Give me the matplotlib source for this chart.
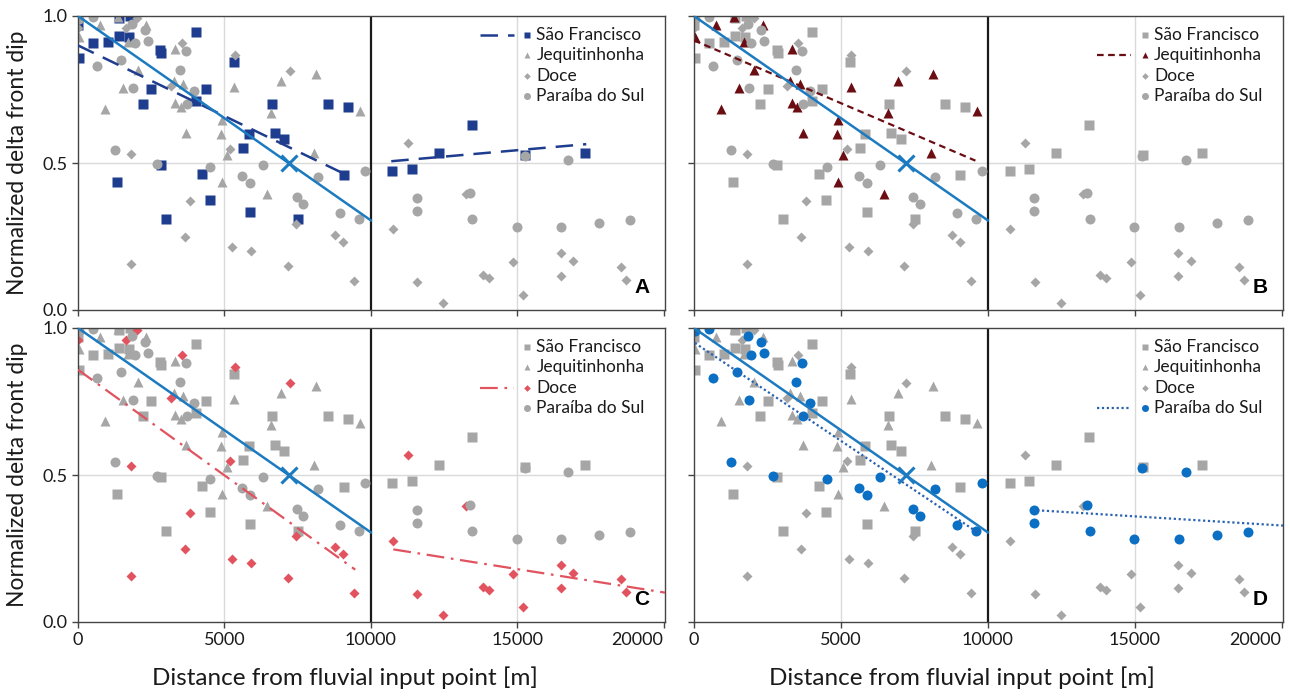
# -*- coding: utf-8 -*-

#---    Packages
import matplotlib
matplotlib.use('Agg')
import matplotlib.pyplot as plt

#---    Data
# Sao Francisco (squares)
sf_x = [0, 45, 500, 1033, 1407, 1748, 1407, 1770, 4018, 2815, 2849, 5323, 2508, 4370,
        2236, 4018, 6628, 8535, 9239, 5834, 6719, 7048, 5652, 2838, 9069, 4245, 1339,
        4506, 5891, 3019, 7514,
        10740, 11411, 12321, 13458, 15268, 17305]
sf_y = [0.97, 0.858, 0.907, 0.913, 0.932, 0.930, 0.994, 1.0, 0.945, 0.884, 0.873, 0.844,
        0.752, 0.752, 0.699, 0.710, 0.700, 0.700, 0.689, 0.597, 0.603, 0.583, 0.551,
        0.494, 0.458, 0.461, 0.435, 0.373, 0.333, 0.310, 0.310,
        0.472, 0.480, 0.535, 0.630, 0.527, 0.535]

# Jequitinhonha (triangles)
jq_x = [20, 741, 1368, 2337, 1710, 2052, 1539, 912, 3329, 3283, 3603, 3329, 3511, 3705,
        4902, 4879, 5073, 4902, 5335, 6464, 6589, 6931, 8128, 8060, 9644]
jq_y = [0.928, 0.968, 0.997, 0.968, 0.911, 0.815, 0.756, 0.682, 0.889, 0.778, 0.769,
        0.703, 0.692, 0.602, 0.647, 0.599, 0.527, 0.436, 0.758, 0.394, 0.669, 0.778,
        0.803, 0.534, 0.676]

# Doce (diamonds)
dc_x = [0, 1629, 2027, 3542, 3166, 5353, 7233, 1800, 5205, 3816, 3645, 1800, 5274, 5923,
        7438, 7164, 8782, 9055, 9431,
        11284, 10772, 11592, 12480, 13244, 13825, 14040, 14871, 15190, 16488, 16488,
        16920, 18560, 18731]
dc_y = [0.958, 0.958, 0.994, 0.909, 0.761, 0.866, 0.812, 0.531, 0.547, 0.372, 0.247,
        0.156, 0.215, 0.199, 0.293, 0.148, 0.256, 0.230, 0.099,
        0.567, 0.276, 0.094, 0.023, 0.396, 0.119, 0.110, 0.162, 0.051, 0.193, 0.114,
        0.165, 0.146, 0.102]

# Paraiba do Sul (circles)
ps_x = [34, 514, 1839, 2284, 1953, 2398, 3689, 640, 1462, 3483, 1862, 3951, 3712, 1268,
        2684, 4522, 5607, 5881, 6315, 8200, 7469, 7686, 8965, 9604, 9798,
        11590, 11590, 13392, 13474, 14991, 15265, 16498, 16738, 17810, 18851]
ps_y = [0.991, 0.997, 0.974, 0.953, 0.909, 0.914, 0.881, 0.830, 0.852, 0.817, 0.755,
        0.744, 0.701, 0.545, 0.498, 0.485, 0.455, 0.431, 0.493, 0.453, 0.386, 0.362,
        0.330, 0.309, 0.474,
        0.380, 0.338, 0.397, 0.309, 0.284, 0.523, 0.281, 0.511, 0.297, 0.306]

# overall trend and reference point
all_trend_x = [0, 10000]
all_trend_y = [1.0, 0.305]
ref_x, ref_y = 7200, 0.5

# river trend lines: [x0, x1], [y0, y1] near (<10 km) and far (>10 km)
sf_near = ([0, 9200], [0.90, 0.458])
sf_far = ([10700, 17360], [0.506, 0.564])
jq_near = ([0, 9580], [0.917, 0.508])
dc_near = ([0, 9470], [0.858, 0.178])
dc_far = ([10770, 20050], [0.247, 0.100])
ps_near = ([30, 9680], [0.949, 0.303])
ps_far = ([11680, 20050], [0.380, 0.328])

names = ['São Francisco', 'Jequitinhonha', 'Doce', 'Paraíba do Sul']

#---    Style
gray = '#a6a6a6'
rivers = [
    dict(x=sf_x, y=sf_y, m='s', ms=6.8, col='#1f3d8f', ls=(0, (7, 4)), lw=1.8,
         lines=[sf_near, sf_far]),
    dict(x=jq_x, y=jq_y, m='^', ms=7, col='#6b0e14', ls=(0, (3, 2)), lw=1.6,
         lines=[jq_near]),
    dict(x=dc_x, y=dc_y, m='D', ms=4.8, col='#e0535f', ls=(0, (8, 3, 1.2, 3)), lw=1.6,
         lines=[dc_near, dc_far]),
    dict(x=ps_x, y=ps_y, m='o', ms=7.2, col='#0b6fc4', ls=(0, (1, 1.2)), lw=1.6,
         lines=[ps_near, ps_far], lcol='#2a62b2'),
]

plt.rcParams['font.family'] = ['Lato', 'DejaVu Sans']

fig = plt.figure(figsize=(12.9, 6.96), dpi=100)
W, H = 1290.0, 696.0
# panel boxes in pixels: left, top, right, bottom
boxes = [(78, 16, 665, 310), (694, 16, 1283, 310),
         (78, 328, 665, 622), (694, 328, 1283, 622)]
letters = ['A', 'B', 'C', 'D']

for k in range(4):
    l, t, r, b = boxes[k]
    ax = fig.add_axes([l / W, 1 - b / H, (r - l) / W, (b - t) / H])
    hl = k  # highlighted river

    ax.set_xlim(0, 20050)
    ax.set_ylim(0, 1.0)
    ax.axvline(5000, color='#dadada', lw=1.0, zorder=0)
    ax.axvline(15000, color='#dadada', lw=1.0, zorder=0)
    ax.axhline(0.5, color='#dadada', lw=1.0, zorder=0)
    ax.axvline(10000, color='#1a1a1a', lw=1.6, zorder=1)

    for i, rv in enumerate(rivers):
        c = rv['col'] if i == hl else gray
        ax.plot(rv['x'], rv['y'], linestyle='none', marker=rv['m'], ms=rv['ms'],
                color=c, mec='none', zorder=2)

    rv = rivers[hl]
    for lx, ly in rv['lines']:
        ax.plot(lx, ly, color=rv.get('lcol', rv['col']), ls=rv['ls'], lw=rv['lw'], zorder=3)

    ax.plot(all_trend_x, all_trend_y, color='#1c7bc0', lw=1.8, zorder=4)
    ax.plot([ref_x], [ref_y], marker='x', ms=12, mew=2.2, color='#1c7bc0', zorder=5)

    # legend drawn by hand so the trend sample sits left of the marker
    ly0 = [0.937, 0.866, 0.797, 0.727]
    for i, rr in enumerate(rivers):
        c = rr['col'] if i == hl else gray
        ax.plot([0.765], [ly0[i]], marker=rr['m'], ms=rr['ms'] * 0.7, color=c, mec='none',
                transform=ax.transAxes, zorder=6)
        ax.text(0.781, ly0[i], names[i], transform=ax.transAxes, va='center', ha='left',
                fontsize=12.5, color='#1a1a1a')
    ax.plot([0.685, 0.742], [ly0[hl], ly0[hl]], color=rv.get('lcol', rv['col']),
            ls=rv['ls'], lw=rv['lw'], transform=ax.transAxes)

    ax.text(0.961, 0.078, letters[k], transform=ax.transAxes, ha='center', va='center',
            fontsize=15, fontweight='bold', family='Liberation Sans')

    for s in ax.spines.values():
        s.set_color('#444444')
        s.set_linewidth(1.0)

    ax.set_xticks([0, 5000, 10000, 15000, 20000])
    ax.set_yticks([0, 0.5, 1.0])
    ax.tick_params(direction='out', length=4, width=1.0, color='#444444',
                   labelsize=13, labelcolor='#1a1a1a')

    if k in (0, 2):
        ax.set_yticklabels(['0.0', '0.5', '1.0'])
        ax.set_ylabel('Normalized delta front dip', fontsize=16.5, color='#1a1a1a')
        ax.yaxis.set_label_coords(-0.085, 0.5)
    else:
        ax.set_yticklabels([])
    if k in (2, 3):
        labs = ax.set_xticklabels(['0', '5000', '10000', '15000', '20000'])
        labs[-1].set_ha('right')
        ax.set_xlabel('Distance from fluvial input point [m]', fontsize=17.5, color='#1a1a1a')
        ax.xaxis.set_label_coords(0.455, -0.15)
    else:
        ax.set_xticklabels([])

plt.savefig('out.png', dpi=100)
